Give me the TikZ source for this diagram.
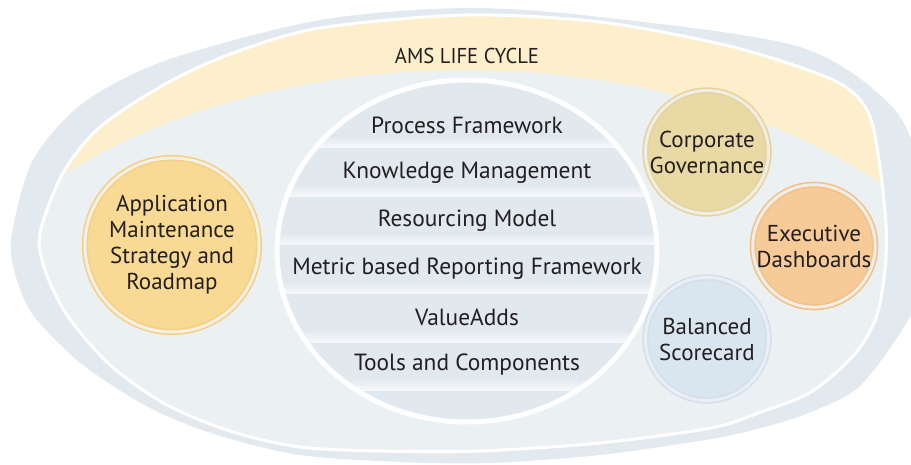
\documentclass[tikz,border=0pt]{standalone}
\usepackage{fontspec}
\setmainfont{PT Sans}
\definecolor{band}{HTML}{E2EAF0}
\definecolor{innerc}{HTML}{EBF0F3}
\definecolor{yel}{HTML}{FDEFCB}
\definecolor{stripe}{HTML}{E1E8EE}
\definecolor{stripehi}{HTML}{F7F9FB}
\definecolor{txt}{HTML}{231F20}
\definecolor{appfill}{HTML}{F8DA94}
\definecolor{appring}{HTML}{F6D07E}
\definecolor{appgap}{HTML}{F2F0E8}
\definecolor{corpfill}{HTML}{E9D9A5}
\definecolor{corpring}{HTML}{E6D39A}
\definecolor{corpgap}{HTML}{EEEDE6}
\definecolor{exefill}{HTML}{F6CB97}
\definecolor{exering}{HTML}{F4C184}
\definecolor{exegap}{HTML}{F1EDE8}
\definecolor{balfill}{HTML}{D9E5EF}
\definecolor{balring}{HTML}{D3E0EA}
\definecolor{balgap}{HTML}{E9EFF4}
\def\whitepath{(40,233) (63,173) (100,127) (167,83) (233,53) (320,28) (465,15) (600,22) (733,47) (833,80) (867,110) (879,160) (886,225) (885,270) (876,318) (854,355) (811,392) (761,412) (711,428) (600,443) (480,451) (380,451) (300,447) (233,432) (167,405) (110,365) (67,315) (45,270)}
\begin{document}
\begin{tikzpicture}[x=1pt,y=-1pt,
  lbl/.style={text=txt, font=\fontsize{23.4}{28}\selectfont, align=center, inner sep=0pt},
  bubble/.style={circle, inner sep=0pt, line width=1.6pt, double distance=3pt,
    align=center, text=txt, font=\fontsize{23}{26}\selectfont},
  ttl/.style={text=txt, font=\fontsize{21.5}{24}\selectfont, inner sep=0pt}]
\useasboundingbox (0,0) rectangle (911,465);
% outer band
\fill[band] plot[smooth cycle] coordinates {(12,233) (33,160) (83,103) (167,60) (320,20) (465,8) (600,17) (800,47) (895,110) (925,190) (928,260) (911,315) (861,385) (811,412) (761,428) (711,439) (600,455) (490,463) (400,462) (300,455) (217,435) (150,408) (83,365) (33,315) (14,270)};
% inner area with yellow crescent
\begin{scope}
\clip plot[smooth cycle] coordinates {\whitepath};
\fill[yel] (-20,-20) rectangle (950,500);
\fill[innerc] (465,420) ellipse [x radius=563pt, y radius=350pt];
\end{scope}
\draw[white, line width=3pt] plot[smooth cycle] coordinates {\whitepath};
% central circle
\begin{scope}
\clip (467,251) ellipse [x radius=190pt, y radius=171pt];
\fill[stripe] (270,70) rectangle (660,430);
\foreach \yb in {148,196.5,245,293.5,342,390.5} {
  \shade[top color=stripe, bottom color=stripehi] (270,\yb-12) rectangle (660,\yb);
}
\end{scope}
\draw[white, line width=5pt] (467,251) ellipse [x radius=190pt, y radius=171pt];
% title
\node[ttl] (title) at (467,55.5) {\scalebox{0.96}[1]{AMS LIFE CYCLE}};
% central items
\node[lbl] (pf) at (467,125) {Process Framework};
\node[lbl] (km) at (467,173) {Knowledge Management};
\node[lbl] (rm) at (467,221) {Resourcing Model};
\node[lbl] (mr) at (467,269) {Metric based Reporting Framework};
\node[lbl] (va) at (467,317) {ValueAdds};
\node[lbl] (tc) at (467,365) {Tools and Components};
% bubbles
\node[bubble, minimum size=174pt, fill=appfill, draw=appring, double=appgap] (app) at (172,245) {Application\\Maintenance\\Strategy and\\Roadmap};
\node[bubble, minimum size=123pt, fill=corpfill, draw=corpring, double=corpgap] (corp) at (707,152) {Corporate\\Governance};
\node[bubble, minimum size=122pt, fill=exefill, draw=exering, double=exegap] (exe) at (814,246) {Executive\\Dashboards};
\node[bubble, minimum size=123pt, fill=balfill, draw=balring, double=balgap] (bal) at (707,339) {Balanced\\Scorecard};
\end{tikzpicture}
\end{document}
